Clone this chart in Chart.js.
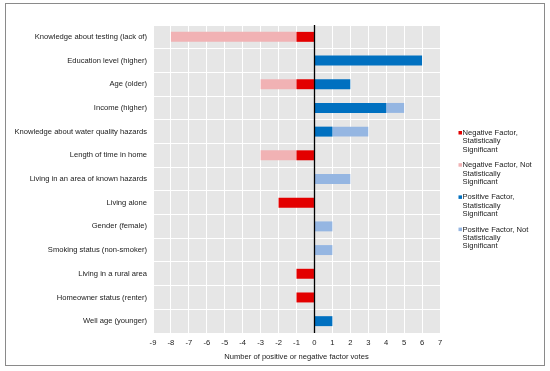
<!DOCTYPE html>
<html>
<head>
<meta charset="utf-8">
<script src="https://cdn.jsdelivr.net/npm/chart.js@4"></script>
<style>
  html, body { margin: 0; padding: 0; background: #fff; }
  #wrap { position: absolute; left: 0; top: 0; width: 550px; height: 371px; }
  #frame { position: absolute; left: 5px; top: 3px; width: 538px; height: 361px; border: 1px solid #8a8a8a; pointer-events: none; }
</style>
</head>
<body>
<div id="wrap">
  <canvas id="c" width="550" height="371"></canvas>
  <div id="frame"></div>
</div>
<script>
const categories = [
  "Knowledge about testing (lack of)",
  "Education level (higher)",
  "Age (older)",
  "Income (higher)",
  "Knowledge about water quality hazards",
  "Length of time in home",
  "Living in an area of known hazards",
  "Living alone",
  "Gender (female)",
  "Smoking status (non-smoker)",
  "Living in a rural area",
  "Homeowner status (renter)",
  "Well age (younger)"
];
const negativeSignificant    = [-1, 0, -1, 0, 0, -1, 0, -2, 0, 0, -1, -1, 0];
const negativeNotSignificant = [-7, 0, -2, 0, 0, -2, 0, 0, 0, 0, 0, 0, 0];
const positiveSignificant    = [0, 6, 2, 4, 1, 0, 0, 0, 0, 0, 0, 0, 1];
const positiveNotSignificant = [0, 0, 0, 1, 2, 0, 2, 0, 1, 1, 0, 0, 0];
const seriesNames = [
  ["Negative Factor,", "Statistically", "Significant"],
  ["Negative Factor, Not", "Statistically", "Significant"],
  ["Positive Factor,", "Statistically", "Significant"],
  ["Positive Factor, Not", "Statistically", "Significant"]
];
const xMin = -9, xMax = 7;
const axisTitle = "Number of positive or negative factor votes";

const colors = ["#e30000", "#f1b2b4", "#0070c0", "#95b6e2"];
const FONT = { family: "'Liberation Sans', Arial, sans-serif", size: 7.6 };

const bgPlugin = {
  id: 'bg',
  beforeDraw(chart) {
    const {ctx, chartArea: a} = chart;
    ctx.save();
    ctx.fillStyle = '#e6e6e6';
    ctx.fillRect(a.left, a.top, a.right - a.left, a.bottom - a.top);
    ctx.restore();
  },
  afterDatasetsDraw(chart) {
    const {ctx, chartArea: a} = chart;
    const x = Math.round(chart.scales.x.getPixelForValue(0)) + 0.5;
    ctx.save();
    ctx.strokeStyle = '#000';
    ctx.lineWidth = 1.3;
    ctx.beginPath();
    ctx.moveTo(x, a.top);
    ctx.lineTo(x, a.bottom);
    ctx.stroke();
    ctx.restore();
  }
};

const legendPlugin = {
  id: 'sideLegend',
  afterDraw(chart) {
    const {ctx} = chart;
    ctx.save();
    ctx.font = FONT.size + 'px ' + FONT.family;
    ctx.textBaseline = 'middle';
    ctx.textAlign = 'left';
    const x0 = 458.5, tx = 462.5, y0 = 133, step = 32.2, lh = 8.4;
    chart.data.datasets.forEach((ds, i) => {
      const y = y0 + i * step;
      ctx.fillStyle = ds.backgroundColor;
      ctx.fillRect(x0, y - 2, 3.5, 3.5);
      ctx.fillStyle = '#1a1a1a';
      seriesNames[i].forEach((line, j) => ctx.fillText(line, tx, y + j * lh));
    });
    ctx.restore();
  }
};

const datasets = [negativeSignificant, negativeNotSignificant, positiveSignificant, positiveNotSignificant]
  .map((d, i) => ({
    label: seriesNames[i].join(' '),
    data: d,
    backgroundColor: colors[i],
    borderWidth: 0,
    barPercentage: 0.42,
    categoryPercentage: 1.0
  }));

new Chart(document.getElementById('c'), {
  type: 'bar',
  data: { labels: categories, datasets },
  options: {
    indexAxis: 'y',
    responsive: false,
    animation: false,
    devicePixelRatio: 1,
    layout: { padding: { left: 0, right: 110, top: 25, bottom: 10 } },
    plugins: { legend: { display: false }, tooltip: { enabled: false } },
    scales: {
      x: {
        stacked: true,
        min: xMin, max: xMax,
        ticks: { stepSize: 1, color: '#1a1a1a', font: FONT, padding: 5 },
        grid: { color: '#ffffff', lineWidth: 1, drawTicks: false },
        border: { display: false },
        title: { display: true, text: axisTitle, color: '#1a1a1a', font: FONT, padding: { top: 0, bottom: 0 } },
        afterFit(s) { s.height = 28; }
      },
      y: {
        stacked: true,
        ticks: { color: '#1a1a1a', font: FONT, padding: 6, autoSkip: false },
        grid: { color: '#ffffff', lineWidth: 1, drawTicks: false, offset: true },
        border: { display: false },
        afterFit(s) { s.width = 153; }
      }
    }
  },
  plugins: [bgPlugin, legendPlugin]
});
</script>
</body>
</html>
